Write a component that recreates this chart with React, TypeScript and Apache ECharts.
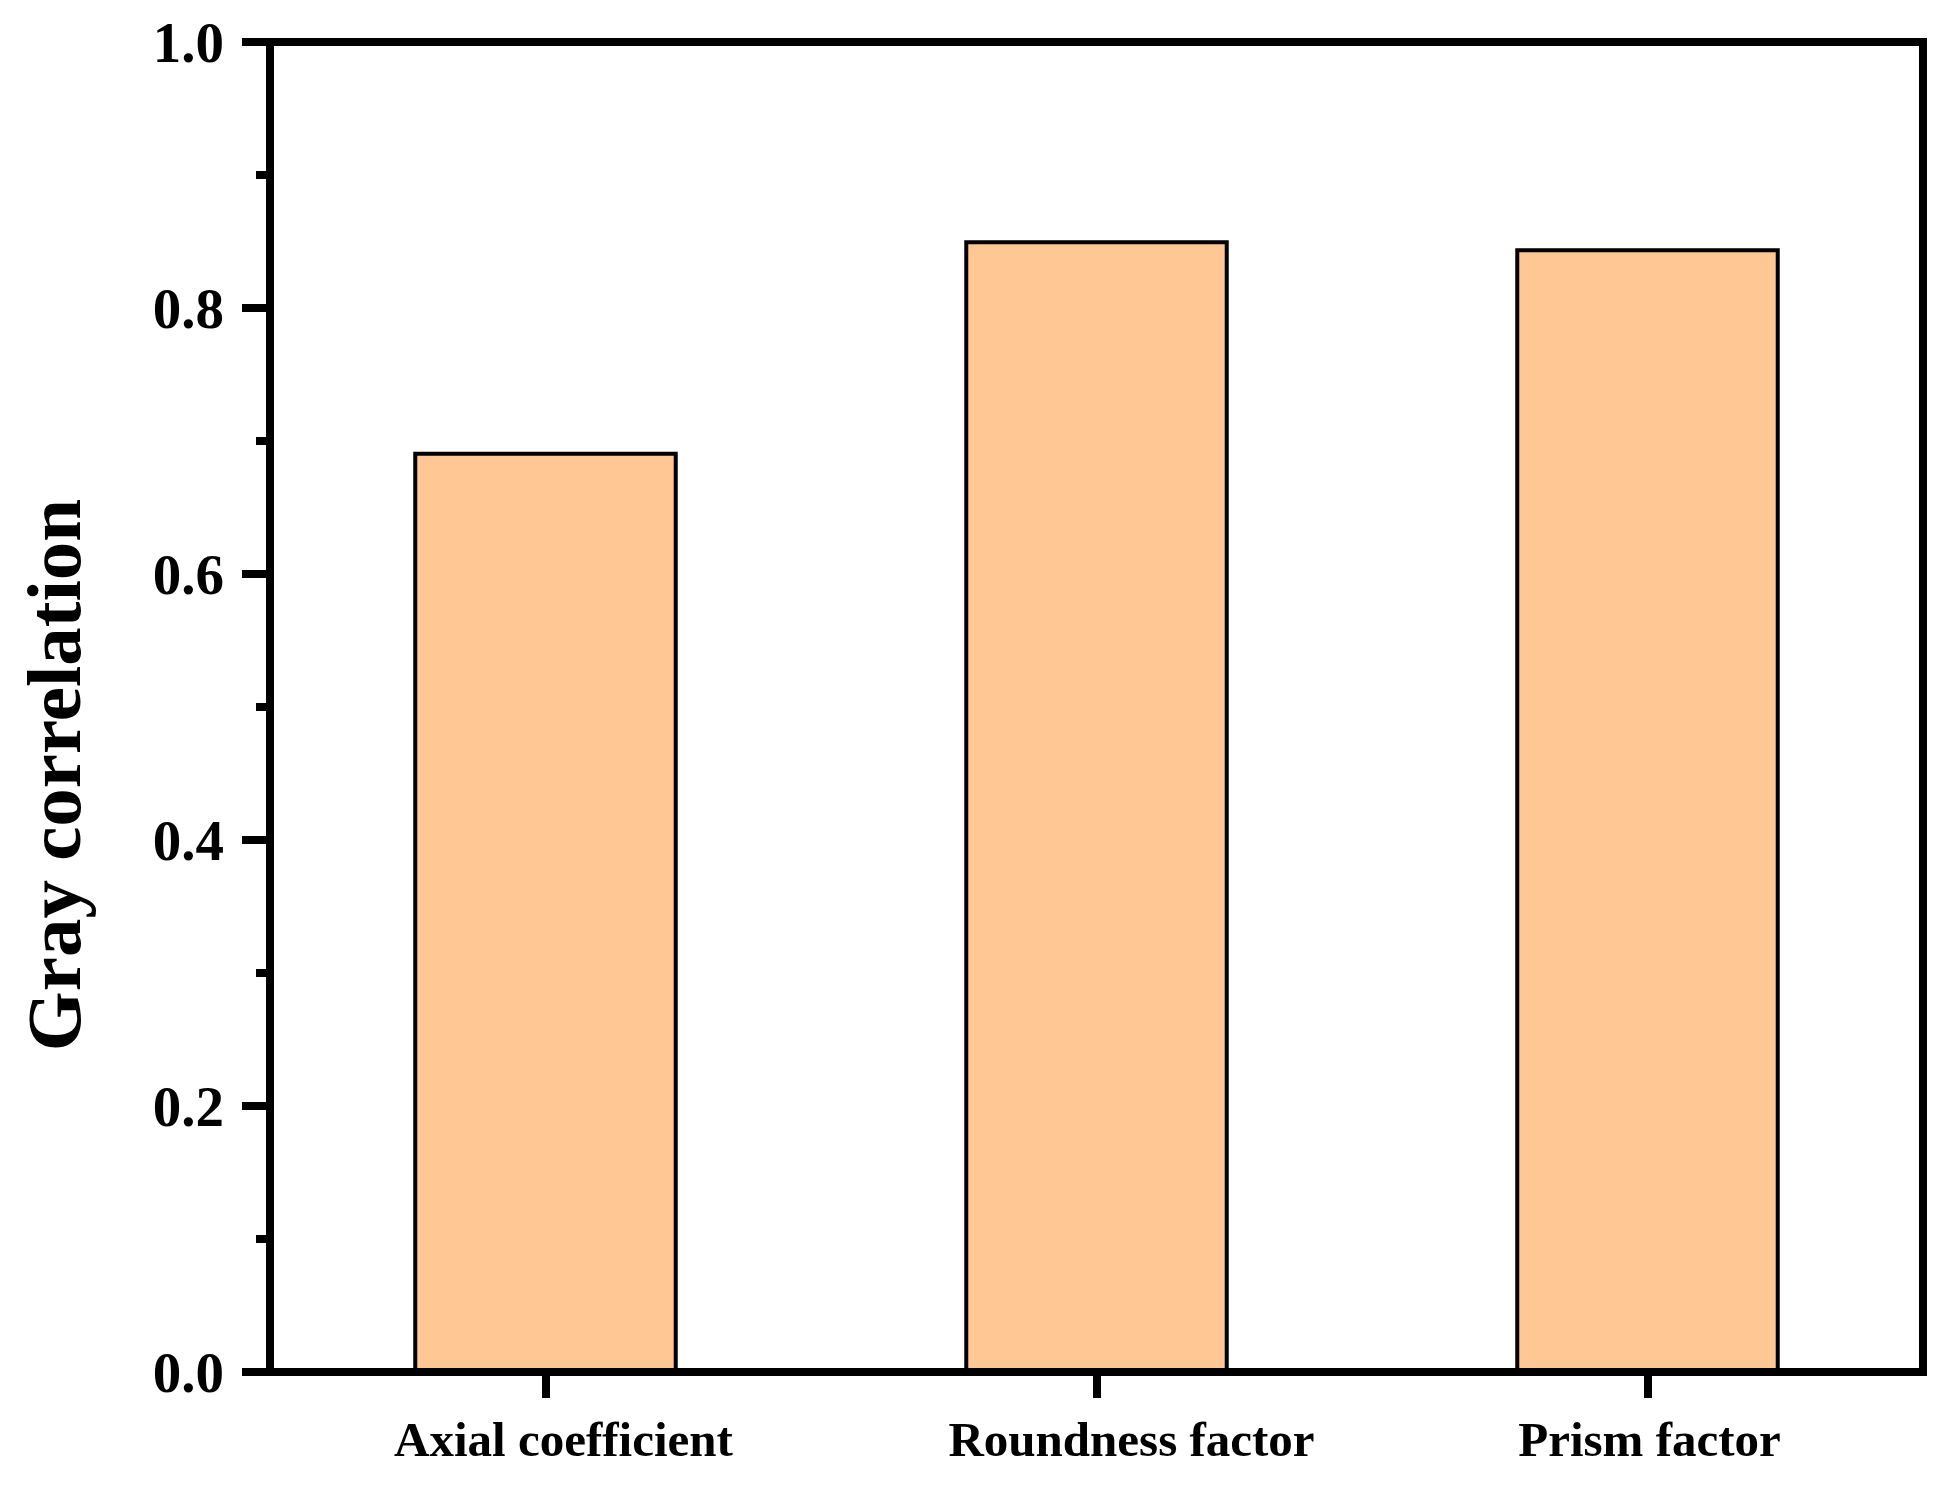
import React, { useEffect, useRef } from "react";
import * as echarts from "echarts";

const categories: string[] = ["Axial coefficient", "Roundness factor", "Prism factor"];
const grayCorrelation: number[] = [0.692, 0.851, 0.845];
const yTicks: number[] = [0, 0.2, 0.4, 0.6, 0.8, 1.0];
const yTitle = "Gray correlation";

const FONT = "'Liberation Serif', 'Times New Roman', serif";

export default function App() {
  const ref = useRef<HTMLDivElement>(null);
  useEffect(() => {
    if (!ref.current) return;
    const chart = echarts.init(ref.current, undefined, { renderer: "svg" });
    // left padding (px) nudging each category label to the right, as in the reference
    const labelNudge = [36, 70, 4];
    chart.setOption({
      animation: false,
      backgroundColor: "#ffffff",
      grid: {
        left: 270,
        right: 18,
        top: 42,
        bottom: 119,
        show: true,
        borderColor: "#000",
        borderWidth: 8,
        backgroundColor: "transparent",
      },
      xAxis: {
        type: "category",
        data: categories.map((c, i) => ({
          value: c,
          textStyle: { padding: [0, 0, 0, labelNudge[i]] },
        })),
        boundaryGap: true,
        axisLine: { show: true, lineStyle: { color: "#000", width: 8 } },
        axisTick: { show: true, alignWithLabel: true, length: 26, lineStyle: { color: "#000", width: 8 } },
        axisLabel: {
          color: "#000",
          fontFamily: FONT,
          fontWeight: "bold",
          fontSize: 49,
          margin: 43,
        },
        splitLine: { show: false },
      },
      yAxis: {
        type: "value",
        min: yTicks[0],
        max: yTicks[yTicks.length - 1],
        interval: 0.2,
        axisLine: { show: true, lineStyle: { color: "#000", width: 8 } },
        axisTick: { show: true, length: 28, lineStyle: { color: "#000", width: 8 } },
        minorTick: { show: true, splitNumber: 2, length: 14, lineStyle: { color: "#000", width: 8 } },
        axisLabel: {
          color: "#000",
          fontFamily: FONT,
          fontWeight: "bold",
          fontSize: 57,
          margin: 46,
          formatter: (v: number) => v.toFixed(1),
        },
        splitLine: { show: false },
        minorSplitLine: { show: false },
      },
      graphic: [
        {
          type: "text",
          x: 54,
          y: 775,
          rotation: Math.PI / 2,
          style: {
            text: yTitle,
            fill: "#000",
            font: `bold 77px ${FONT}`,
            textAlign: "center",
            textVerticalAlign: "middle",
          },
        },
      ],
      series: [
        {
          type: "bar",
          data: grayCorrelation,
          barWidth: "48%",
          itemStyle: { color: "#FEC794", borderColor: "#000", borderWidth: 4 },
        },
      ],
    });
    return () => chart.dispose();
  }, []);
  return (
    <div
      ref={ref}
      style={{ position: "fixed", left: 0, top: 0, width: 1941, height: 1491, background: "#fff" }}
    />
  );
}
